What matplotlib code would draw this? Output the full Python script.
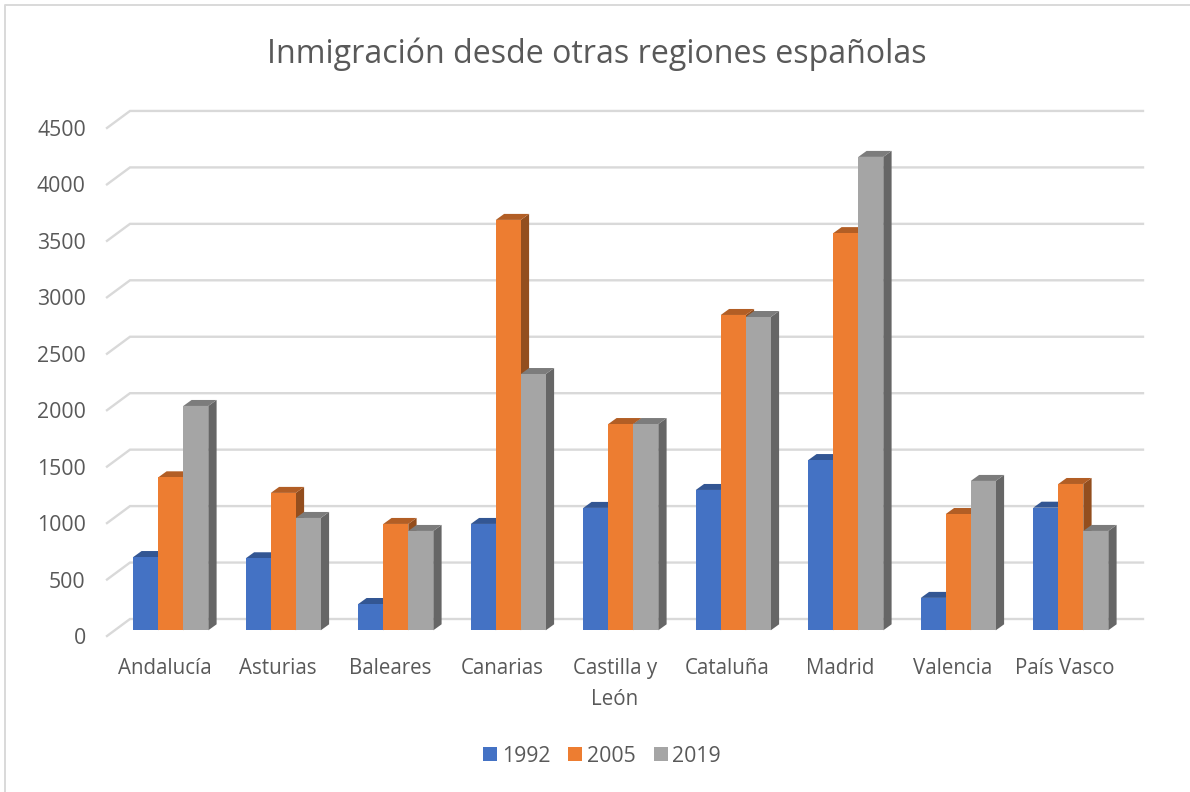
import matplotlib
matplotlib.use("Agg")
import matplotlib.pyplot as plt
from matplotlib.colors import to_rgb
from matplotlib.lines import Line2D
from matplotlib.patches import Patch
from matplotlib.transforms import ScaledTranslation

plt.rcParams['font.family'] = ['Open Sans', 'DejaVu Sans']

# Data
regiones = ['Andalucía', 'Asturias', 'Baleares', 'Canarias', 'Castilla y\nLeón',
            'Cataluña', 'Madrid', 'Valencia', 'País Vasco']
y1992 = [649, 638, 233, 942, 1084, 1243, 1508, 287, 1086]
y2005 = [1355, 1217, 942, 3635, 1827, 2793, 3518, 1030, 1296]
y2019 = [1987, 995, 880, 2270, 1827, 2775, 4193, 1323, 880]
anios = ['1992', '2005', '2019']
colores = ['#4472C4', '#ED7D31', '#A5A5A5']
yticks = [0, 500, 1000, 1500, 2000, 2500, 3000, 3500, 4000, 4500]

W, H = 1190, 792
TXT = '#595959'
GRID = '#D9D9D9'

fig = plt.figure(figsize=(W / 100, H / 100), dpi=100)
fig.patch.set_facecolor('white')

# axes box in pixels
left, right = 108, 1143
bottom = 630.3
px_per_unit = 56.45 / 500
ymax = 4750
ax = fig.add_axes([left / W, 1 - bottom / H, (right - left) / W, ymax * px_per_unit / H])

px_per_cat = 112.5
x_zero = 170.8  # pixel of first group centre
ax.set_xlim((left - x_zero) / px_per_cat, (right - x_zero) / px_per_cat)
ax.set_ylim(0, ymax)


def px_x(n):
    return n / px_per_cat


def px_y(n):
    return n / px_per_unit


# fake 3d: depth of the bars and of the floor, in pixels
bar_w = px_x(25)
dx, dy = px_x(8.3), px_y(6)
x_front, x_back = (left - 1 - x_zero) / px_per_cat, (130 - x_zero) / px_per_cat
y_front, y_back = px_y(-5.7), px_y(11.3)
x_end = (right - x_zero) / px_per_cat

for v in yticks:
    ax.plot([x_front, x_back, x_end], [v + y_front, v + y_back, v + y_back],
            color=GRID, lw=1.7, clip_on=False, zorder=1, solid_joinstyle='miter')


def shade(c, f):
    return tuple(f * k for k in to_rgb(c))


z = 2
for i in range(len(regiones)):
    for j, serie in enumerate([y1992, y2005, y2019]):
        v = serie[i]
        x0 = i + (j - 1.5) * bar_w
        x1 = x0 + bar_w
        col = colores[j]
        ax.fill([x1, x1 + dx, x1 + dx, x1], [0, dy, v + dy, v],
                color=shade(col, 0.62), lw=0, zorder=z, clip_on=False)
        ax.fill([x0, x0 + dx, x1 + dx, x1], [v, v + dy, v + dy, v],
                color=shade(col, 0.75), lw=0, zorder=z, clip_on=False)
        ax.bar(x0, v, width=bar_w, align='edge', color=col, lw=0, zorder=z, clip_on=False)
        z += 1

for s in ax.spines.values():
    s.set_visible(False)
ax.patch.set_visible(False)

ax.set_xticks(range(len(regiones)))
ax.set_xticklabels(regiones, fontsize=14.8, color=TXT, linespacing=1.6)
ax.set_yticks(yticks)
ax.set_yticklabels([str(v) for v in yticks], fontsize=15.3, color=TXT)
ax.tick_params(axis='both', length=0)
ax.tick_params(axis='x', pad=20)
ax.tick_params(axis='y', pad=16)

# category labels sit a bit left of the groups, value labels on the front edge
off_x = ScaledTranslation(-6 / 100, 0, fig.dpi_scale_trans)
for lab in ax.get_xticklabels():
    lab.set_transform(lab.get_transform() + off_x)
off_y = ScaledTranslation(0, -5.7 / 100, fig.dpi_scale_trans)
for lab in ax.get_yticklabels():
    lab.set_transform(lab.get_transform() + off_y)

fig.text(597 / W, 1 - 54 / H, 'Inmigración desde otras regiones españolas',
         fontsize=23.15, color=TXT, ha='center', va='center')

handles = [Patch(color=c, lw=0, label=a) for c, a in zip(colores, anios)]
fig.legend(handles=handles, loc='center', bbox_to_anchor=(602 / W, 1 - 756 / H), ncol=3,
           frameon=False, fontsize=15.3, labelcolor=TXT, handlelength=0.66, handleheight=0.66,
           handletextpad=0.22, columnspacing=0.85, borderpad=0, borderaxespad=0)

# chart border: only top and left are inside the crop
fig.add_artist(Line2D([4.5 / W, 4.5 / W, 1], [0, 1 - 4.5 / H, 1 - 4.5 / H],
                      transform=fig.transFigure, color=GRID, lw=1.4))

fig.savefig('out.png', dpi=100)
